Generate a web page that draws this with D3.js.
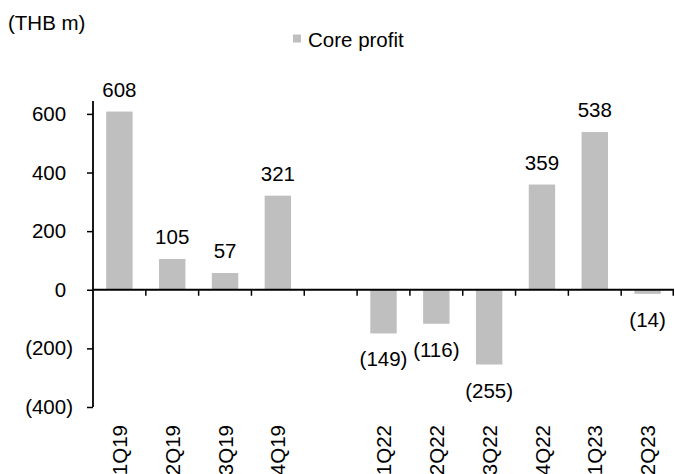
<!DOCTYPE html>
<html>
<head>
<meta charset="utf-8">
<script src="https://cdn.jsdelivr.net/npm/d3@7"></script>
<style>
  body { margin: 0; background: #fff; }
  svg text { font-family: Arial, "Liberation Sans", sans-serif; font-size: 20.5px; fill: #000; }
</style>
</head>
<body>
<div id="chart"></div>
<script>
// data
var quarters = ["1Q19", "2Q19", "3Q19", "4Q19", "", "1Q22", "2Q22", "3Q22", "4Q22", "1Q23", "2Q23"];
var coreProfit = [608, 105, 57, 321, null, -149, -116, -255, 359, 538, -14];
var yTicks = [-400, -200, 0, 200, 400, 600];

var svgWidth = 675;
var svgHeight = 474;
var margin = { top: 101, right: 1, bottom: 67, left: 93 };
var width = svgWidth - margin.left - margin.right;
var height = svgHeight - margin.top - margin.bottom;

var svg = d3.select("#chart")
  .append("svg")
  .attr("width", svgWidth)
  .attr("height", svgHeight);

var chartGroup = svg.append("g")
  .attr("transform", `translate(${margin.left}, ${margin.top})`);

var rows = quarters.map((q, i) => ({ key: i, label: q, value: coreProfit[i] }));

var xScale = d3.scaleBand()
  .domain(rows.map(d => d.key))
  .range([0, width])
  .paddingInner(0.5)
  .paddingOuter(0.25);

var yScale = d3.scaleLinear()
  .domain([-400, 644])
  .range([height, 0]);

// number format like Excel's #,##0_);(#,##0)
var fmt = v => v < 0 ? `(${d3.format(",")(-v)})` : d3.format(",")(v);

// bars
var bars = rows.filter(d => d.value !== null);
chartGroup.selectAll("rect.bar")
  .data(bars)
  .enter()
  .append("rect")
  .attr("class", "bar")
  .attr("x", d => xScale(d.key))
  .attr("width", xScale.bandwidth())
  .attr("y", d => yScale(Math.max(0, d.value)))
  .attr("height", d => Math.abs(yScale(d.value) - yScale(0)))
  .attr("fill", "#bfbfbf");

// value labels
chartGroup.selectAll("text.val")
  .data(bars)
  .enter()
  .append("text")
  .attr("class", "val")
  .attr("text-anchor", "middle")
  .attr("x", d => xScale(d.key) + xScale.bandwidth() / 2)
  .attr("y", d => d.value >= 0 ? yScale(d.value) - 15 : yScale(d.value) + 33)
  .text(d => fmt(d.value));

// y axis
var leftAxis = d3.axisLeft(yScale)
  .tickValues(yTicks)
  .tickSize(6)
  .tickPadding(14)
  .tickFormat(fmt);

var yAxis = chartGroup.append("g").call(leftAxis);
yAxis.select(".domain").remove();
yAxis.selectAll(".tick line").attr("stroke", "#000").attr("stroke-width", 1.5);
yAxis.selectAll(".tick text")
  .attr("dx", d => d >= 0 ? "-0.333em" : 0)
  .style("font-size", "20.5px")
  .style("font-family", "Arial, 'Liberation Sans', sans-serif");
yAxis.append("line")
  .attr("x1", 0).attr("x2", 0)
  .attr("y1", 0).attr("y2", height)
  .attr("stroke", "#000")
  .attr("stroke-width", 1.8);

// category axis sitting on zero
var zeroY = yScale(0);
chartGroup.append("line")
  .attr("x1", 0).attr("x2", width)
  .attr("y1", zeroY).attr("y2", zeroY)
  .attr("stroke", "#000")
  .attr("stroke-width", 1.8);

chartGroup.selectAll("line.cattick")
  .data(d3.range(1, quarters.length + 1))
  .enter()
  .append("line")
  .attr("class", "cattick")
  .attr("x1", i => Math.min(width - 0.75, i * xScale.step()))
  .attr("x2", i => Math.min(width - 0.75, i * xScale.step()))
  .attr("y1", zeroY)
  .attr("y2", zeroY + 6)
  .attr("stroke", "#000")
  .attr("stroke-width", 1.5);

// category labels at the low end, rotated
chartGroup.selectAll("text.cat")
  .data(rows.filter(d => d.label))
  .enter()
  .append("text")
  .attr("class", "cat")
  .attr("text-anchor", "end")
  .attr("dy", "0.37em")
  .attr("transform", d => `translate(${xScale(d.key) + xScale.bandwidth() / 2}, ${height + 18}) rotate(-90)`)
  .text(d => d.label);

// unit label
svg.append("text")
  .attr("x", 8)
  .attr("y", 29.5)
  .text("(THB m)");

// legend
var legend = svg.append("g").attr("transform", "translate(293, 34.5)");
legend.append("rect")
  .attr("width", 8)
  .attr("height", 8)
  .attr("fill", "#bfbfbf");
legend.append("text")
  .attr("x", 15)
  .attr("y", 12)
  .text("Core profit");
</script>
</body>
</html>
